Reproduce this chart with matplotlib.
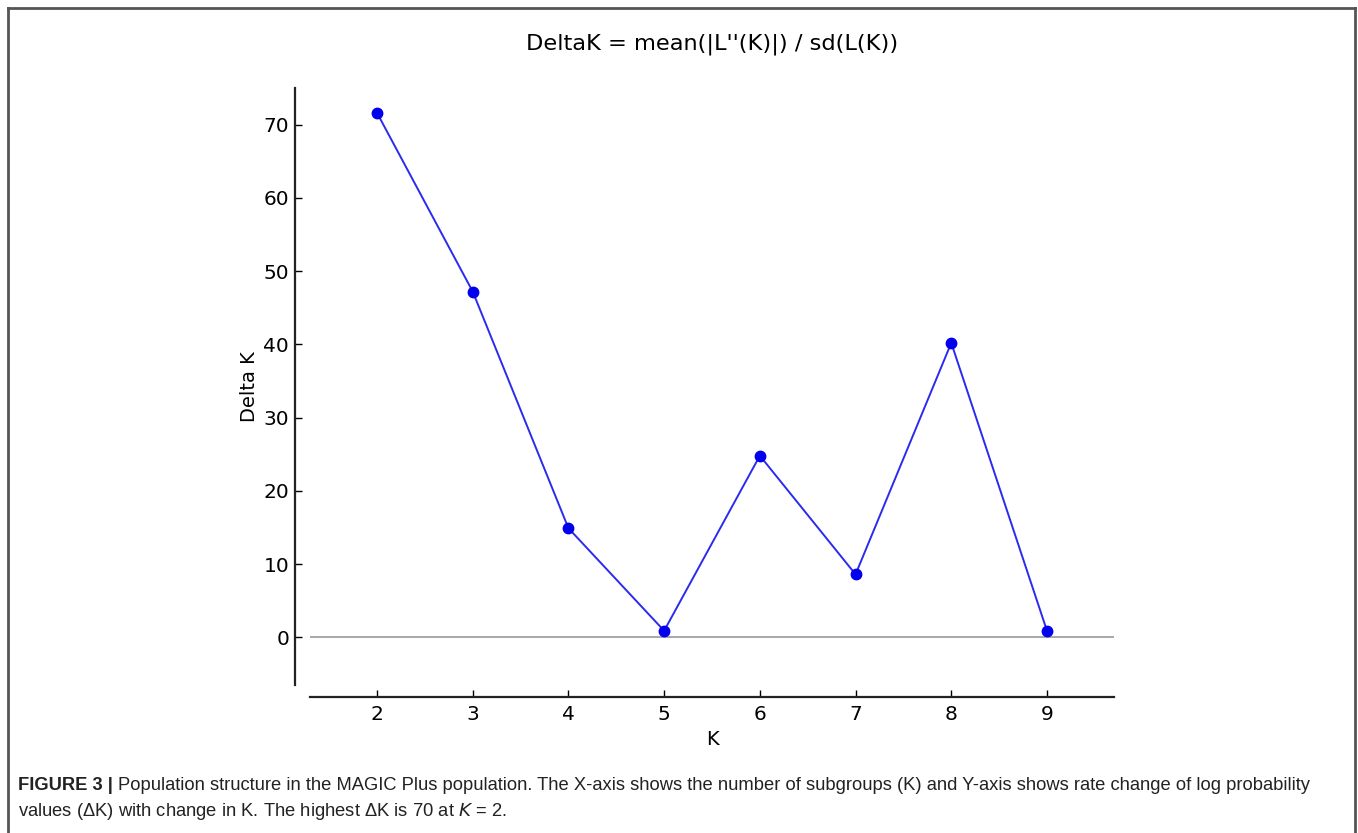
import numpy as np
import matplotlib.pyplot as plt
from matplotlib.lines import Line2D

# Delta K values
k_values = [2, 3, 4, 5, 6, 7, 8, 9]
delta_k = [71.6, 47.2, 14.9, 0.9, 24.8, 8.6, 40.2, 0.9]
x_ticks = [2, 3, 4, 5, 6, 7, 8, 9]
y_ticks = [0, 10, 20, 30, 40, 50, 60, 70]

fig = plt.figure(figsize=(13.58, 8.33), dpi=100)
ax = fig.add_axes([0.2283, 0.1777, 0.592, 0.7167])

ax.axhline(0, color='#999999', lw=1.2, zorder=1)
ax.plot(k_values, delta_k, color='#2a2af0', lw=1.4, marker='o',
        markersize=7.5, markerfacecolor='#0000ee', markeredgecolor='#0000ee', zorder=3)

ax.set_xlim(1.3, 9.7)
ax.set_ylim(-6.5, 75)
ax.set_xticks(x_ticks)
ax.set_yticks(y_ticks)

ax.spines['top'].set_visible(False)
ax.spines['right'].set_visible(False)
ax.spines['left'].set_position(('outward', 11))
ax.spines['bottom'].set_position(('outward', 9))
for s in ('left', 'bottom'):
    ax.spines[s].set_linewidth(1.6)
    ax.spines[s].set_color('#222222')
ax.tick_params(direction='in', length=5, width=1, labelsize=14.5, pad=4)
ax.tick_params(axis='x', pad=5.5)

ax.set_title("DeltaK = mean(|L''(K)|) / sd(L(K))", fontsize=16.2, pad=28)
ax.set_xlabel('K', fontsize=14, labelpad=4)
ax.set_ylabel('Delta K', fontsize=14, labelpad=3)

# open frame around the figure (caption panel)
frame = dict(color='#555555', lw=2, transform=fig.transFigure)
fig.add_artist(Line2D([8/1358, 8/1358], [0, 1 - 8/833], **frame))
fig.add_artist(Line2D([8/1358, 1355/1358], [1 - 8/833, 1 - 8/833], **frame))
fig.add_artist(Line2D([1355/1358, 1355/1358], [0, 1 - 8/833], **frame))

cap_font = ['Liberation Sans', 'DejaVu Sans']
t1 = fig.text(18/1358, 1 - 786/833, 'FIGURE 3 |', fontsize=13.2, fontweight='bold',
              family=cap_font, va='center', color='#222222')
fig.canvas.draw()
bb = t1.get_window_extent()
fig.text((bb.x1 + 5)/1358, 1 - 786/833,
         'Population structure in the MAGIC Plus population. The X-axis shows the number of '
         'subgroups (K) and Y-axis shows rate change of log probability',
         fontsize=13.2, family=cap_font, va='center', color='#222222')
fig.text(18/1358, 1 - 811/833,
         'values (\u0394K) with change in K. The highest \u0394K is 70 at $\\mathit{K}$ = 2.',
         fontsize=13.2, family=cap_font, va='center', color='#222222')

fig.savefig('out.png', dpi=100)
